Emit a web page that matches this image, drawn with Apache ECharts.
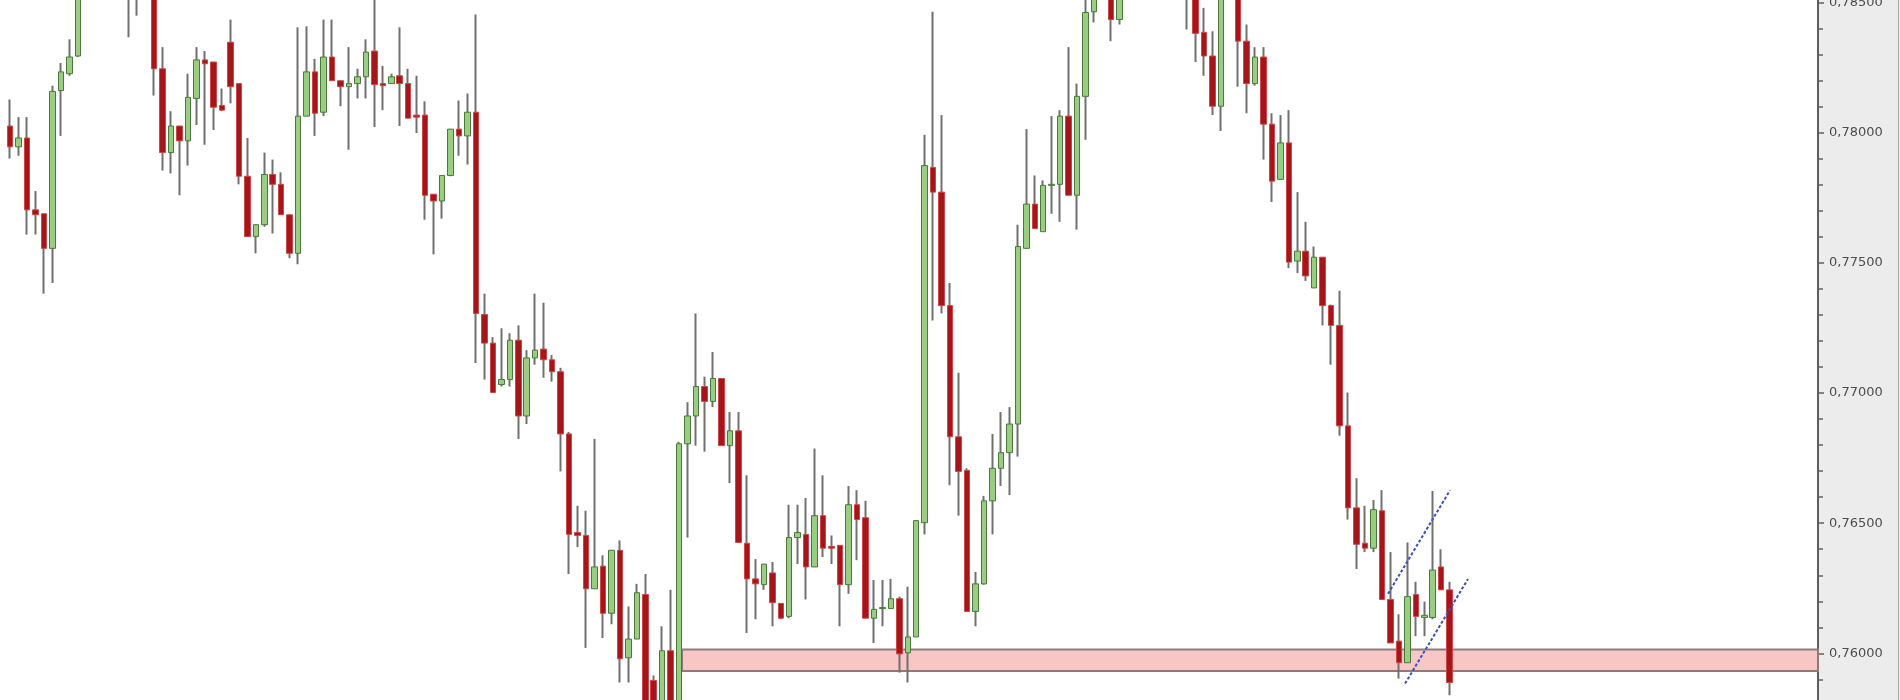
<!DOCTYPE html>
<html>
<head>
<meta charset="utf-8">
<script src="https://cdn.jsdelivr.net/npm/echarts@6/dist/echarts.min.js"></script>
<style>
html,body{margin:0;padding:0;background:#fff;width:1900px;height:700px;overflow:hidden;position:relative;}
#chart{position:absolute;left:0;top:-134px;width:1900px;height:924px;}
</style>
</head>
<body>
<div id="chart"></div>
<script>
// ---- data ----
const opens = [0.78026,0.77946,0.77980,0.77704,0.77689,0.77556,0.78162,0.78227,0.78295,0.78568,
0.78663,0.78757,0.78719,0.78795,0.78682,0.78606,0.78644,0.78587,0.78246,0.77924,
0.78026,0.77969,0.78132,0.78280,0.78272,0.78105,0.78348,0.78189,0.77833,0.77601,
0.77647,0.77840,0.77802,0.77685,0.77537,0.78064,0.78234,0.78079,0.78291,0.78200,
0.78177,0.78189,0.78215,0.78314,0.78189,0.78189,0.78219,0.78189,0.78068,0.78068,
0.77764,0.77738,0.77836,0.78014,0.77988,0.78079,0.77302,0.77192,0.77033,0.77052,
0.77203,0.76912,0.77135,0.77169,0.77128,0.77082,0.76843,0.76464,0.76453,0.76248,
0.76335,0.76154,0.76396,0.75983,0.76055,0.76226,0.75896,0.75778,0.76010,0.75794,
0.76805,0.76912,0.77025,0.76968,0.77056,0.76798,0.76855,0.76423,0.76286,0.76264,
0.76309,0.76192,0.76142,0.76445,0.76457,0.76332,0.76529,0.76411,0.76415,0.76264,
0.76571,0.76521,0.76135,0.76172,0.76172,0.76210,0.76002,0.76063,0.76502,0.77867,
0.77772,0.77336,0.76832,0.76703,0.76161,0.76267,0.76586,0.76711,0.76771,0.76881,
0.77556,0.77726,0.77620,0.77798,0.77802,0.78064,0.77760,0.78140,0.78465,0.78568,
0.78587,0.78435,0.78549,0.78640,0.78720,0.78680,0.78760,0.78700,0.78640,0.78600,
0.78560,0.78386,0.78295,0.78102,0.78530,0.78560,0.78352,0.78189,0.78291,0.78033,
0.77821,0.77961,0.77507,0.77545,0.77404,0.77522,0.77336,0.77260,0.76874,0.76559,
0.76423,0.76404,0.76548,0.76207,0.76047,0.75964,0.76226,0.76138,0.76138,0.76332,
0.76244];
const closes = [0.77946,0.77980,0.77704,0.77685,0.77556,0.78159,0.78234,0.78291,0.78568,0.78663,
0.78757,0.78719,0.78795,0.78682,0.78606,0.78644,0.78587,0.78246,0.77924,0.78026,
0.77969,0.78136,0.78280,0.78265,0.78098,0.78087,0.78177,0.77833,0.77601,0.77647,
0.77840,0.77802,0.77685,0.77537,0.78064,0.78234,0.78075,0.78291,0.78200,0.78177,
0.78189,0.78215,0.78310,0.78185,0.78181,0.78215,0.78189,0.78056,0.78060,0.77760,
0.77738,0.77836,0.78014,0.77988,0.78079,0.77306,0.77192,0.77002,0.77052,0.77203,
0.76912,0.77135,0.77165,0.77128,0.77082,0.76843,0.76457,0.76453,0.76248,0.76332,
0.76154,0.76396,0.75979,0.76055,0.76233,0.75801,0.75756,0.76010,0.75794,0.76805,
0.76912,0.77025,0.76968,0.77056,0.76798,0.76855,0.76426,0.76286,0.76267,0.76343,
0.76195,0.76135,0.76445,0.76464,0.76332,0.76529,0.76404,0.76404,0.76264,0.76571,
0.76514,0.76135,0.76169,0.76176,0.76210,0.75998,0.76063,0.76510,0.77874,0.77772,
0.77336,0.76832,0.76699,0.76161,0.76267,0.76586,0.76711,0.76771,0.76881,0.77563,
0.77726,0.77632,0.77798,0.77802,0.78064,0.77760,0.78140,0.78462,0.78568,0.78606,
0.78435,0.78549,0.78640,0.78720,0.78680,0.78760,0.78700,0.78640,0.78600,0.78560,
0.78382,0.78295,0.78102,0.78530,0.78570,0.78352,0.78189,0.78291,0.78033,0.77814,
0.77961,0.77503,0.77545,0.77450,0.77522,0.77336,0.77260,0.76874,0.76559,0.76419,
0.76404,0.76552,0.76207,0.76040,0.75964,0.76218,0.76142,0.76146,0.76320,0.76244,
0.75888];
const highs = [0.78128,0.78060,0.78060,0.77776,0.77689,0.78181,0.78268,0.78359,0.78606,0.78719,
0.78814,0.78833,0.78852,0.78833,0.78719,0.78700,0.78682,0.78606,0.78329,0.78083,
0.78026,0.78227,0.78329,0.78314,0.78272,0.78170,0.78435,0.78189,0.77980,0.77647,
0.77924,0.77897,0.77848,0.77685,0.78405,0.78409,0.78284,0.78435,0.78435,0.78200,
0.78329,0.78246,0.78359,0.78511,0.78257,0.78227,0.78405,0.78246,0.78219,0.78121,
0.77764,0.77836,0.78014,0.78124,0.78151,0.78454,0.77382,0.77215,0.77249,0.77230,
0.77260,0.77165,0.77382,0.77347,0.77146,0.77097,0.76851,0.76567,0.76548,0.76824,
0.76377,0.76396,0.76434,0.76180,0.76267,0.76305,0.75915,0.76104,0.76244,0.76813,
0.76965,0.77306,0.77063,0.77158,0.77056,0.76927,0.76927,0.76684,0.76362,0.76343,
0.76351,0.76192,0.76571,0.76571,0.76597,0.76787,0.76684,0.76453,0.76415,0.76643,
0.76627,0.76586,0.76282,0.76282,0.76286,0.76218,0.76256,0.76510,0.77992,0.78465,
0.78068,0.77423,0.77078,0.76711,0.76313,0.76605,0.76843,0.76927,0.76946,0.77647,
0.78014,0.77836,0.77817,0.78064,0.78087,0.78329,0.78189,0.78511,0.78606,0.78663,
0.78625,0.78606,0.78700,0.78780,0.78790,0.78820,0.78800,0.78740,0.78700,0.78650,
0.78620,0.78480,0.78390,0.78568,0.78620,0.78600,0.78416,0.78329,0.78329,0.78075,
0.78068,0.78087,0.77772,0.77658,0.77563,0.77522,0.77340,0.77393,0.77002,0.76673,
0.76567,0.76589,0.76627,0.76389,0.76150,0.76426,0.76275,0.76199,0.76624,0.76400,
0.76275];
const lows = [0.77901,0.77912,0.77609,0.77609,0.77382,0.77423,0.77988,0.78219,0.78291,0.78530,
0.78625,0.78682,0.78663,0.78606,0.78367,0.78450,0.78511,0.78143,0.77855,0.77844,
0.77760,0.77874,0.78030,0.77954,0.78011,0.78083,0.78113,0.77802,0.77601,0.77537,
0.77639,0.77613,0.77685,0.77518,0.77495,0.78064,0.77988,0.78064,0.78200,0.78102,
0.77935,0.78132,0.78132,0.78022,0.78087,0.78189,0.78026,0.78056,0.77999,0.77666,
0.77533,0.77670,0.77833,0.77912,0.77878,0.77116,0.77052,0.77002,0.77025,0.77025,
0.76824,0.76881,0.77109,0.77059,0.77044,0.76699,0.76305,0.76408,0.76021,0.76248,
0.76059,0.76112,0.75888,0.75888,0.76055,0.75744,0.75687,0.75733,0.75756,0.75763,
0.76445,0.76798,0.76775,0.76946,0.76798,0.76654,0.76426,0.76078,0.76131,0.76244,
0.76104,0.76131,0.76135,0.76343,0.76207,0.76332,0.76370,0.76343,0.76104,0.76229,
0.76358,0.76135,0.76040,0.76104,0.76172,0.75926,0.75888,0.76063,0.76457,0.77279,
0.77306,0.76646,0.76529,0.76161,0.76104,0.76264,0.76457,0.76643,0.76608,0.76756,
0.77556,0.77632,0.77620,0.77689,0.77658,0.77760,0.77628,0.77973,0.78424,0.78522,
0.78352,0.78416,0.78520,0.78600,0.78630,0.78650,0.78660,0.78580,0.78540,0.78397,
0.78272,0.78219,0.78068,0.78007,0.78510,0.78177,0.78075,0.78181,0.77897,0.77734,
0.77821,0.77480,0.77461,0.77431,0.77404,0.77260,0.77109,0.76836,0.76514,0.76324,
0.76389,0.76389,0.76207,0.76040,0.75903,0.75964,0.76066,0.76066,0.76131,0.76244,
0.75839];
const categoryCount = 214; // candle slots across the plot (right part is empty)
const categories = Array.from({length: categoryCount}, (_, i) => 'P' + (i + 1));
// support zone (price band) and the two channel lines (x in slot units)
const zoneTop = 0.76015, zoneBottom = 0.75932, zoneStart = 79.34;
const channelUpper = [[162.72, 0.76229], [170.05, 0.76627]];
const channelLower = [[164.73, 0.75884], [172.17, 0.76286]];
const yTicks = {min: 0.755, max: 0.790, step: 0.005};

// ---- chart ----
const wickData = opens.map((o, i) => [o, closes[i], lows[i], highs[i]]);
const bodyData = opens.map((o, i) => [o, closes[i], Math.min(o, closes[i]), Math.max(o, closes[i])]);

const chart = echarts.init(document.getElementById('chart'), null, {renderer: 'canvas'});
chart.setOption({
  animation: false,
  backgroundColor: '#ffffff',
  grid: {left: 6, right: 82, top: 0, bottom: 0, containLabel: false},
  graphic: [
    {type: 'rect', z: -10, shape: {x: 1819, y: 0, width: 81, height: 924}, style: {fill: '#ececec'}},
    {type: 'line', z: -9, shape: {x1: 1898.5, y1: 0, x2: 1898.5, y2: 924}, style: {stroke: '#a8a8a8', lineWidth: 1}}
  ],
  xAxis: [
    {type: 'category', data: categories, boundaryGap: true, show: false},
    {type: 'value', min: -0.5, max: categoryCount - 0.5, show: false}
  ],
  yAxis: {
    type: 'value', position: 'right',
    min: yTicks.min, max: yTicks.max, interval: yTicks.step,
    splitLine: {show: false},
    axisLine: {show: true, onZero: false, lineStyle: {color: '#5f5f5f', width: 2}},
    axisTick: {show: true, inside: false, length: 6, lineStyle: {color: '#5f5f5f', width: 1.5}},
    minorTick: {show: true, splitNumber: 5, length: 5, lineStyle: {color: '#5f5f5f', width: 1.5}},
    axisLabel: {
      margin: 11, color: '#4d4d4d', fontFamily: 'DejaVu Sans', fontSize: 13,
      formatter: v => v.toFixed(5).replace('.', ',')
    }
  },
  series: [
    {
      name: 'zone', type: 'line', xAxisIndex: 1, z: 1, silent: true,
      data: [[zoneStart, 0.76]], symbol: 'none', lineStyle: {opacity: 0},
      markArea: {
        silent: true,
        itemStyle: {color: '#f9c6c6', borderColor: '#8e7a7a', borderWidth: 2},
        data: [[{coord: [zoneStart, zoneTop]}, {coord: [categoryCount - 0.5, zoneBottom]}]]
      }
    },
    {
      name: 'wicks', type: 'candlestick', z: 3, silent: true,
      barWidth: 1, data: wickData,
      itemStyle: {color: '#707070', color0: '#707070', borderColor: '#707070', borderColor0: '#707070', borderColorDoji: '#707070', borderWidth: 2}
    },
    {
      name: 'bodies', type: 'candlestick', z: 4, silent: true,
      barWidth: 6, data: bodyData,
      itemStyle: {color: '#98cd82', color0: '#a5161a', borderColor: '#4a7a3a', borderColor0: '#cf4646', borderColorDoji: '#5a3030', borderWidth: 1}
    },
    {
      name: 'channelUpper', type: 'line', xAxisIndex: 1, z: 5, silent: true,
      data: channelUpper, symbol: 'none',
      lineStyle: {color: '#3d50b6', width: 2, type: [3, 2]}
    },
    {
      name: 'channelLower', type: 'line', xAxisIndex: 1, z: 5, silent: true,
      data: channelLower, symbol: 'none',
      lineStyle: {color: '#3d50b6', width: 2, type: [3, 2]}
    }
  ]
});
</script>
</body>
</html>
